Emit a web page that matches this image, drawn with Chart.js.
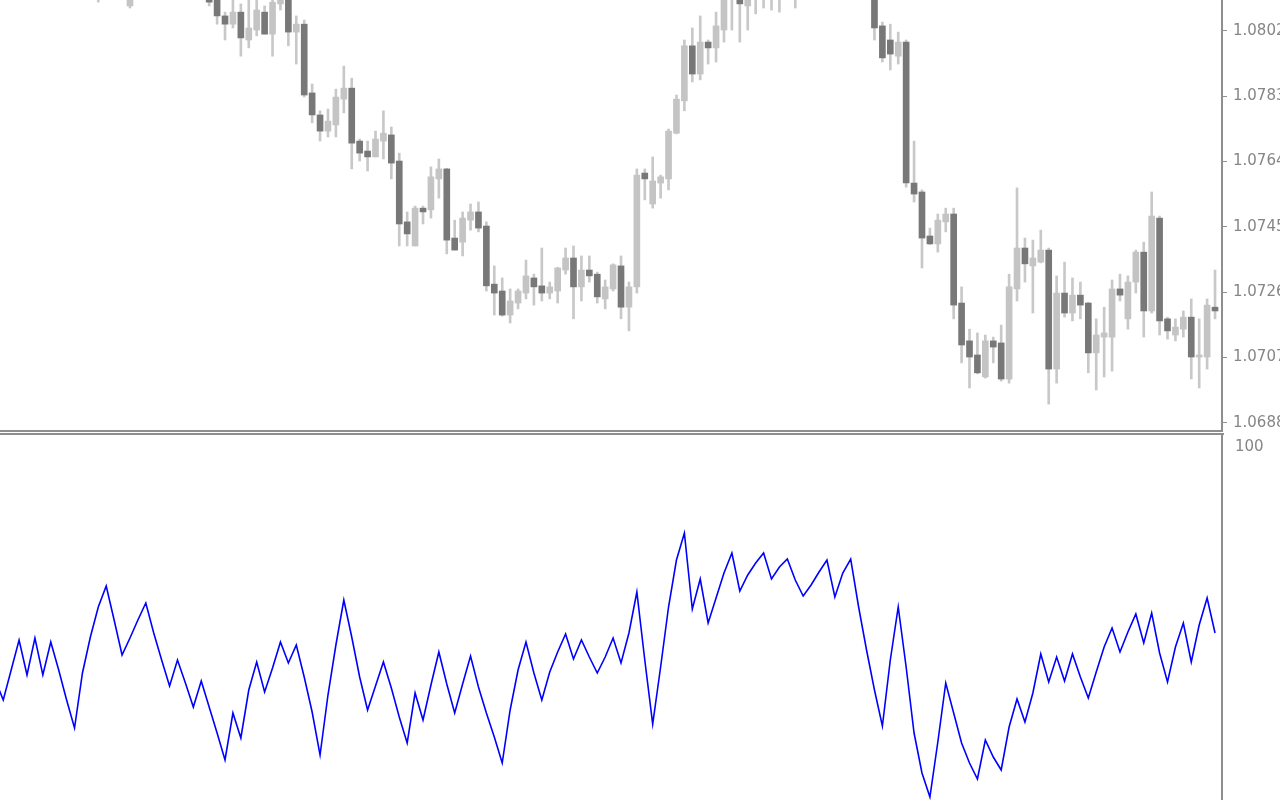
<!DOCTYPE html>
<html>
<head>
<meta charset="utf-8">
<title>EURUSD candles with RSI</title>
<script src="https://cdn.jsdelivr.net/npm/chart.js@4.4.1/dist/chart.umd.min.js"></script>
<style>
  html, body { margin: 0; padding: 0; background: #ffffff; overflow: hidden; }
  #wrap { position: relative; width: 1280px; height: 800px; overflow: hidden; }
  #priceChart { position: absolute; left: 0; top: 0; }
  #rsiChart { position: absolute; left: 0; top: 433px; }
  .sep { position: absolute; left: 0; height: 2px; background: #8e8e8e; }
</style>
</head>
<body>
<div id="wrap">
  <canvas id="priceChart" width="1280" height="430"></canvas>
  <canvas id="rsiChart" width="1280" height="414"></canvas>
  <div class="sep" style="top:430px;width:1223px"></div>
  <div class="sep" style="top:433px;width:1224px"></div>
</div>
<script>
// candles that sit completely above the visible window are null
const open = [
  null, null, null, null, null, null, null, null, null, null,
  null, null, null, 1.08144, null, null, null, 1.08092, null, null,
  null, null, null, null, null, null, null, 1.08133, 1.08121, 1.08063,
  1.08039, 1.08074, 1.07993, 1.08022, 1.08074, 1.08010, 1.08098, 1.08121, 1.08016, 1.08039,
  1.07839, 1.07775, 1.07728, 1.07746, 1.07821, 1.07853, 1.07699, 1.07670, 1.07653, 1.07699,
  1.07717, 1.07641, 1.07464, 1.07394, 1.07504, 1.07499, 1.07589, 1.07618, 1.07417, 1.07405,
  1.07469, 1.07493, 1.07452, 1.07283, 1.07263, 1.07193, 1.07228, 1.07257, 1.07301, 1.07278,
  1.07257, 1.07263, 1.07324, 1.07359, 1.07275, 1.07324, 1.07312, 1.07240, 1.07269, 1.07336,
  1.07216, 1.07275, 1.07606, 1.07516, 1.07577, 1.07589, 1.07722, 1.07816, 1.07976, 1.07894,
  1.07987, 1.07970, 1.08022, 1.08127, 1.08127, 1.08092, 1.08121, 1.08144, 1.08127, 1.08156,
  null, 1.08138, null, null, null, null, null, null, null, null,
  null, 1.08127, 1.08034, 1.07993, 1.07946, 1.07987, 1.07577, 1.07551, 1.07423, 1.07400,
  1.07464, 1.07487, 1.07228, 1.07118, 1.07077, 1.07013, 1.07118, 1.07112, 1.07007, 1.07269,
  1.07388, 1.07336, 1.07347, 1.07382, 1.07036, 1.07257, 1.07199, 1.07251, 1.07228, 1.07083,
  1.07129, 1.07129, 1.07269, 1.07182, 1.07289, 1.07376, 1.07205, 1.07475, 1.07182, 1.07135,
  1.07152, 1.07187, 1.07071, 1.07071, 1.07216
];
const high = [
  null, null, null, null, null, null, null, null, null, null,
  null, null, null, 1.08156, null, null, null, 1.08138, null, null,
  null, null, null, null, null, null, null, 1.08144, 1.08133, 1.08074,
  1.08115, 1.08098, 1.08115, 1.08115, 1.08092, 1.08115, 1.08133, 1.08133, 1.08063, 1.08051,
  1.07865, 1.07787, 1.07792, 1.07850, 1.07917, 1.07882, 1.07705, 1.07699, 1.07728, 1.07787,
  1.07740, 1.07664, 1.07493, 1.07510, 1.07510, 1.07624, 1.07647, 1.07620, 1.07469, 1.07493,
  1.07516, 1.07522, 1.07464, 1.07336, 1.07301, 1.07269, 1.07269, 1.07353, 1.07312, 1.07388,
  1.07289, 1.07332, 1.07388, 1.07394, 1.07365, 1.07365, 1.07318, 1.07295, 1.07342, 1.07365,
  1.07289, 1.07618, 1.07618, 1.07653, 1.07600, 1.07734, 1.07833, 1.07993, 1.08028, 1.08063,
  1.07993, 1.08074, 1.08144, 1.08168, 1.08144, 1.08144, 1.08168, 1.08168, 1.08173, 1.08179,
  null, 1.08185, null, null, null, null, null, null, null, null,
  null, 1.08144, 1.08045, 1.08039, 1.08016, 1.07993, 1.07699, 1.07557, 1.07446, 1.07487,
  1.07504, 1.07504, 1.07275, 1.07152, 1.07141, 1.07135, 1.07129, 1.07164, 1.07312, 1.07563,
  1.07417, 1.07411, 1.07440, 1.07388, 1.07307, 1.07347, 1.07301, 1.07289, 1.07230, 1.07182,
  1.07216, 1.07295, 1.07312, 1.07307, 1.07382, 1.07405, 1.07551, 1.07481, 1.07187, 1.07182,
  1.07205, 1.07240, 1.07182, 1.07240, 1.07324
];
const low = [
  null, null, null, null, null, null, null, null, null, null,
  null, null, null, 1.08103, null, null, null, 1.08086, null, null,
  null, null, null, null, null, null, null, 1.08092, 1.08039, 1.07993,
  1.08028, 1.07946, 1.07970, 1.08005, 1.08010, 1.07946, 1.08080, 1.07976, 1.07923, 1.07827,
  1.07752, 1.07699, 1.07711, 1.07711, 1.07781, 1.07618, 1.07641, 1.07612, 1.07653, 1.07647,
  1.07589, 1.07394, 1.07394, 1.07394, 1.07458, 1.07475, 1.07533, 1.07371, 1.07382, 1.07365,
  1.07440, 1.07435, 1.07263, 1.07193, 1.07190, 1.07170, 1.07211, 1.07240, 1.07222, 1.07234,
  1.07240, 1.07228, 1.07312, 1.07182, 1.07234, 1.07289, 1.07228, 1.07211, 1.07263, 1.07182,
  1.07147, 1.07257, 1.07528, 1.07504, 1.07533, 1.07557, 1.07720, 1.07787, 1.07871, 1.07877,
  1.07923, 1.07929, 1.07987, 1.08022, 1.07987, 1.08022, 1.08069, 1.08086, 1.08080, 1.08074,
  null, 1.08086, null, null, null, null, null, null, null, null,
  null, 1.07993, 1.07929, 1.07906, 1.07923, 1.07565, 1.07522, 1.07330, 1.07398, 1.07376,
  1.07435, 1.07182, 1.07054, 1.06981, 1.07022, 1.07010, 1.07054, 1.07001, 1.06995, 1.07234,
  1.07289, 1.07199, 1.07345, 1.06934, 1.06995, 1.07187, 1.07176, 1.07182, 1.07025, 1.06975,
  1.07013, 1.07030, 1.07234, 1.07152, 1.07257, 1.07129, 1.07199, 1.07135, 1.07123, 1.07118,
  1.07129, 1.07007, 1.06981, 1.07036, 1.07182
];
const close = [
  null, null, null, null, null, null, null, null, null, null,
  null, null, null, 1.08127, null, null, null, 1.08127, null, null,
  null, null, null, null, null, null, null, 1.08103, 1.08063, 1.08039,
  1.08074, 1.07999, 1.08028, 1.08080, 1.08010, 1.08103, 1.08121, 1.08016, 1.08039, 1.07833,
  1.07775, 1.07728, 1.07757, 1.07827, 1.07853, 1.07693, 1.07664, 1.07653, 1.07705, 1.07722,
  1.07635, 1.07458, 1.07429, 1.07504, 1.07493, 1.07595, 1.07618, 1.07411, 1.07382, 1.07475,
  1.07493, 1.07446, 1.07278, 1.07257, 1.07193, 1.07234, 1.07263, 1.07307, 1.07275, 1.07257,
  1.07275, 1.07330, 1.07359, 1.07275, 1.07324, 1.07307, 1.07246, 1.07275, 1.07339, 1.07216,
  1.07275, 1.07600, 1.07589, 1.07583, 1.07595, 1.07728, 1.07821, 1.07976, 1.07894, 1.07987,
  1.07970, 1.08034, 1.08121, 1.08150, 1.08098, 1.08127, 1.08144, 1.08127, 1.08156, 1.08127,
  null, 1.08162, null, null, null, null, null, null, null, null,
  null, 1.08028, 1.07941, 1.07952, 1.07987, 1.07577, 1.07545, 1.07417, 1.07400, 1.07469,
  1.07487, 1.07222, 1.07106, 1.07071, 1.07025, 1.07118, 1.07100, 1.07007, 1.07275, 1.07388,
  1.07342, 1.07359, 1.07382, 1.07036, 1.07257, 1.07199, 1.07251, 1.07222, 1.07083, 1.07135,
  1.07141, 1.07269, 1.07251, 1.07289, 1.07376, 1.07205, 1.07481, 1.07176, 1.07147, 1.07158,
  1.07187, 1.07071, 1.07077, 1.07222, 1.07205
];
const rsi = [
  41.75, 36.75, 44.25, 51.75, 43.0, 52.25, 43.0, 51.25, 44.25, 36.75,
  29.75, 43.5, 52.5, 60.0, 65.25, 56.75, 48.0, 52.25, 56.75, 61.0,
  53.5, 46.75, 40.25, 46.75, 41.0, 35.0, 41.5, 35.0, 28.5, 21.75,
  33.5, 27.25, 39.25, 46.25, 38.75, 44.75, 51.25, 46.0, 50.5, 42.5,
  33.75, 23.0, 38.0, 50.5, 61.75, 52.5, 42.5, 34.25, 40.25, 46.25,
  39.75, 32.5, 26.0, 38.5, 31.75, 40.5, 48.75, 40.75, 33.5, 40.75,
  47.75, 40.0, 33.5, 27.5, 21.0, 34.25, 44.25, 51.25, 43.5, 36.75,
  43.75, 48.75, 53.25, 47.0, 51.75, 47.5, 43.5, 47.5, 52.25, 46.0,
  53.5, 63.75, 46.75, 30.75, 45.0, 60.0, 71.75, 78.5, 59.5, 67.0,
  56.0, 62.25, 68.5, 73.5, 64.0, 68.0, 71.0, 73.5, 67.0, 70.0,
  72.0, 66.75, 62.75, 65.5, 68.75, 71.75, 62.5, 68.5, 72.0, 60.0,
  49.25, 39.25, 30.25, 46.75, 60.0, 45.0, 28.5, 18.5, 12.5, 26.25,
  41.0, 33.5, 26.0, 21.0, 17.0, 26.75, 22.5, 19.25, 30.0, 37.0,
  31.25, 38.5, 48.25, 41.25, 47.5, 41.5, 48.25, 42.5, 37.25, 43.75,
  50.0, 54.75, 48.75, 53.75, 58.25, 51.0, 58.5, 48.5, 41.25, 50.0,
  56.0, 46.25, 55.5, 62.25, 53.5
];
const priceTicks = [1.0802, 1.0783, 1.0764, 1.0745, 1.0726, 1.0707, 1.0688];
const rsiTicks = [100];

const AXIS_GRAY = "#8e8e8e";
const LABEL_GRAY = "#868686";
const BULL = "#c4c4c4";
const BEAR = "#787878";
const WICK = "#c8c8c8";

Chart.defaults.font.family = "'DejaVu Sans', sans-serif";
Chart.defaults.animation = false;

// shared bar index window, so both panes line up
const xMin = 0.59;
const xMax = 154.88;

const idx = open.map((v, i) => i).filter((i) => open[i] !== null);

const wickData = idx.map((i) => ({ x: i, y: [low[i], high[i]] }));
const bodyData = idx.map((i) => ({ x: i, y: [open[i], close[i]] }));
const bodyColors = idx.map((i) => (close[i] >= open[i] ? BULL : BEAR));

function rightAxis(ticksList, fmt, min, max, showTicks, pad) {
  return {
    position: "right",
    min: min,
    max: max,
    afterBuildTicks: (scale) => {
      scale.ticks = ticksList.map((v) => ({ value: v }));
    },
    afterFit: (scale) => {
      scale.width = 58;
      // no extra room for labels at the ends, the pane runs edge to edge
      scale.paddingTop = 0;
      scale.paddingBottom = 0;
    },
    border: { display: true, color: AXIS_GRAY, width: 2 },
    grid: {
      display: showTicks,
      drawOnChartArea: false,
      drawTicks: true,
      tickLength: 5,
      tickColor: AXIS_GRAY,
      lineWidth: 1
    },
    ticks: {
      color: LABEL_GRAY,
      font: { size: 15 },
      padding: pad,
      crossAlign: "near",
      callback: fmt
    }
  };
}

const xAxis = { type: "linear", min: xMin, max: xMax, offset: false, display: false };

new Chart(document.getElementById("priceChart"), {
  type: "bar",
  data: {
    datasets: [
      {
        label: "wick",
        data: wickData,
        backgroundColor: WICK,
        barThickness: 2,
        grouped: false,
        order: 2
      },
      {
        label: "body",
        data: bodyData,
        backgroundColor: bodyColors,
        barThickness: 6,
        minBarLength: 1,
        grouped: false,
        order: 1
      }
    ]
  },
  options: {
    responsive: false,
    layout: { padding: 0 },
    plugins: { legend: { display: false }, tooltip: { enabled: false } },
    scales: {
      x: xAxis,
      y: rightAxis(priceTicks, (v) => Number(v).toFixed(4), 1.068588, 1.081093, true, 6)
    }
  }
});

new Chart(document.getElementById("rsiChart"), {
  type: "line",
  data: {
    datasets: [
      {
        label: "RSI",
        data: rsi.map((v, i) => ({ x: i, y: v })),
        borderColor: "#0000ff",
        borderWidth: 1.6,
        pointRadius: 0,
        tension: 0,
        fill: false
      }
    ]
  },
  options: {
    responsive: false,
    layout: { padding: 0 },
    plugins: { legend: { display: false }, tooltip: { enabled: false } },
    scales: {
      x: xAxis,
      y: rightAxis(rsiTicks, (v) => String(v), 0, 103.5, false, 8)
    }
  }
});
</script>
</body>
</html>
